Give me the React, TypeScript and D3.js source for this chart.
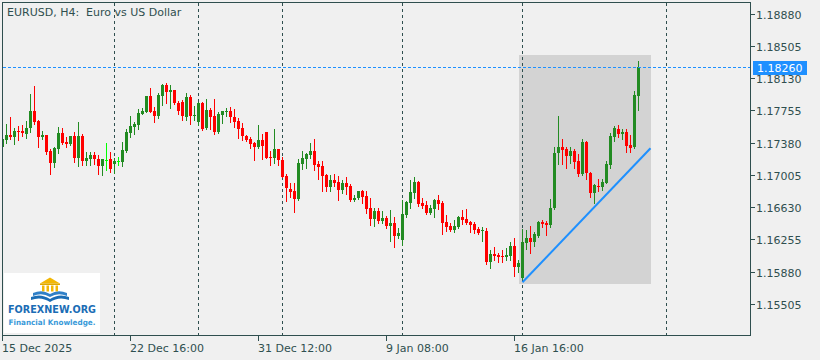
import React from "react";
import * as d3 from "d3";

const TITLE = "EURUSD, H4:  Euro vs US Dollar";

const openP = [1.17332,1.17410,1.17468,1.17445,1.17514,1.17514,1.17480,1.17546,1.17747,1.17631,1.17441,1.17468,1.17282,1.17147,1.17309,1.17488,1.17383,1.17364,1.17456,1.17205,1.17456,1.17170,1.17193,1.17236,1.17193,1.17112,1.17182,1.17186,1.17132,1.17166,1.17155,1.17282,1.17495,1.17565,1.17584,1.17716,1.17739,1.17921,1.17747,1.17693,1.17925,1.18049,1.17971,1.17991,1.17844,1.17855,1.17681,1.17910,1.17693,1.17620,1.17844,1.17546,1.17759,1.17689,1.17506,1.17701,1.17739,1.17747,1.17681,1.17631,1.17553,1.17456,1.17418,1.17375,1.17332,1.17410,1.17499,1.17217,1.17205,1.17305,1.17178,1.16996,1.16841,1.16818,1.16725,1.17128,1.17190,1.17236,1.17282,1.17132,1.17108,1.17004,1.16868,1.16946,1.16919,1.16829,1.16914,1.16876,1.16713,1.16740,1.16818,1.16760,1.16617,1.16493,1.16586,1.16469,1.16500,1.16411,1.16450,1.16295,1.16248,1.16539,1.16682,1.16798,1.16926,1.16682,1.16655,1.16558,1.16609,1.16713,1.16682,1.16454,1.16411,1.16365,1.16396,1.16512,1.16493,1.16454,1.16431,1.16377,1.16353,1.16353,1.15996,1.16086,1.16074,1.16066,1.16047,1.16063,1.16179,1.15938,1.15803,1.16217,1.16268,1.16229,1.16295,1.16462,1.16450,1.16423,1.16617,1.17256,1.17325,1.17305,1.17224,1.17282,1.17170,1.17016,1.17390,1.17031,1.16798,1.16880,1.16868,1.16914,1.17120,1.17448,1.17538,1.17480,1.17506,1.17352,1.17325,1.17921];
const highP = [1.17433,1.17597,1.17678,1.17546,1.17576,1.17584,1.17631,1.17945,1.18037,1.17637,1.17514,1.17474,1.17305,1.17332,1.17565,1.17546,1.17448,1.17462,1.17499,1.17620,1.17483,1.17267,1.17274,1.17274,1.17236,1.17195,1.17372,1.17267,1.17197,1.17217,1.17383,1.17538,1.17693,1.17623,1.17767,1.17779,1.17927,1.18018,1.17797,1.17953,1.18057,1.18072,1.18049,1.17997,1.17863,1.17875,1.17953,1.17933,1.17805,1.17855,1.17855,1.17887,1.17786,1.17887,1.17739,1.17753,1.17786,1.17797,1.17770,1.17670,1.17604,1.17468,1.17441,1.17390,1.17584,1.17476,1.17505,1.17282,1.17538,1.17311,1.17217,1.17012,1.16907,1.16907,1.17190,1.17282,1.17254,1.17372,1.17422,1.17166,1.17166,1.17016,1.17004,1.17016,1.16996,1.16946,1.16977,1.16899,1.16771,1.16823,1.16829,1.16818,1.16733,1.16617,1.16617,1.16586,1.16528,1.16597,1.16512,1.16384,1.16713,1.16701,1.16946,1.16985,1.16932,1.16733,1.16705,1.16655,1.16721,1.16771,1.16701,1.16539,1.16450,1.16481,1.16528,1.16597,1.16609,1.16469,1.16454,1.16404,1.16396,1.16392,1.16132,1.16171,1.16101,1.16132,1.16152,1.16229,1.16268,1.16016,1.16373,1.16365,1.16411,1.16345,1.16469,1.16481,1.16469,1.16725,1.17325,1.17689,1.17422,1.17325,1.17325,1.17305,1.17248,1.17422,1.17398,1.17037,1.16899,1.16962,1.16962,1.17170,1.17495,1.17573,1.17584,1.17538,1.17534,1.17468,1.17979,1.18331];
const lowP = [1.17317,1.17379,1.17422,1.17367,1.17413,1.17460,1.17430,1.17506,1.17600,1.17332,1.17418,1.17244,1.17019,1.17100,1.17259,1.17360,1.17332,1.17352,1.17158,1.17112,1.17120,1.17120,1.17120,1.17135,1.17019,1.17004,1.17062,1.17042,1.17031,1.17120,1.17112,1.17274,1.17445,1.17476,1.17538,1.17712,1.17732,1.17732,1.17623,1.17670,1.17817,1.17844,1.17786,1.17825,1.17712,1.17643,1.17643,1.17597,1.17643,1.17584,1.17523,1.17541,1.17534,1.17480,1.17495,1.17608,1.17693,1.17623,1.17565,1.17437,1.17410,1.17398,1.17313,1.17178,1.17321,1.17190,1.17197,1.17120,1.17143,1.17120,1.16981,1.16701,1.16748,1.16577,1.16713,1.17074,1.17089,1.17205,1.17062,1.16957,1.16818,1.16818,1.16818,1.16880,1.16713,1.16791,1.16783,1.16707,1.16701,1.16721,1.16675,1.16562,1.16423,1.16411,1.16450,1.16442,1.16384,1.16237,1.16171,1.16268,1.16190,1.16520,1.16624,1.16740,1.16644,1.16617,1.16547,1.16551,1.16512,1.16609,1.16318,1.16357,1.16353,1.16345,1.16392,1.16431,1.16435,1.16345,1.16326,1.16318,1.16240,1.15970,1.15920,1.16016,1.15996,1.15996,1.16016,1.16016,1.15830,1.15880,1.15800,1.16140,1.16101,1.16179,1.16287,1.16404,1.16307,1.16396,1.16613,1.17132,1.17132,1.17089,1.17147,1.17089,1.16992,1.17004,1.16957,1.16748,1.16682,1.16821,1.16829,1.16911,1.17089,1.17398,1.17441,1.17418,1.17274,1.17274,1.17321,1.17759];
const closeP = [1.17418,1.17468,1.17441,1.17514,1.17499,1.17488,1.17546,1.17747,1.17623,1.17448,1.17468,1.17274,1.17147,1.17314,1.17488,1.17379,1.17364,1.17456,1.17205,1.17456,1.17170,1.17201,1.17236,1.17186,1.17112,1.17190,1.17182,1.17074,1.17166,1.17166,1.17294,1.17506,1.17573,1.17597,1.17728,1.17747,1.17921,1.17739,1.17693,1.17933,1.18049,1.17971,1.17994,1.17844,1.17747,1.17689,1.17910,1.17693,1.17701,1.17844,1.17534,1.17759,1.17681,1.17499,1.17708,1.17747,1.17747,1.17681,1.17623,1.17538,1.17456,1.17410,1.17364,1.17332,1.17410,1.17340,1.17205,1.17205,1.17305,1.17178,1.16985,1.16849,1.16810,1.16725,1.17140,1.17205,1.17248,1.17282,1.17120,1.17100,1.16992,1.16868,1.16946,1.16907,1.16829,1.16907,1.16868,1.16713,1.16740,1.16818,1.16748,1.16609,1.16493,1.16586,1.16469,1.16500,1.16411,1.16442,1.16295,1.16326,1.16551,1.16694,1.16810,1.16926,1.16667,1.16644,1.16558,1.16624,1.16713,1.16667,1.16450,1.16396,1.16365,1.16411,1.16520,1.16481,1.16442,1.16423,1.16365,1.16334,1.16359,1.15989,1.16086,1.16063,1.16055,1.16047,1.16074,1.16179,1.15938,1.15985,1.16229,1.16268,1.16229,1.16315,1.16462,1.16435,1.16423,1.16617,1.17256,1.17325,1.17294,1.17224,1.17282,1.17158,1.17016,1.17390,1.17024,1.16798,1.16887,1.16868,1.16926,1.17132,1.17456,1.17546,1.17480,1.17506,1.17340,1.17313,1.17933,1.18260];

const yTicks = [1.18880, 1.18505, 1.18130, 1.17755, 1.17380, 1.17005, 1.16630, 1.16255, 1.15880, 1.15505];
const xTickIdx = [0, 32, 64, 96, 128];
const xTickLabels = ["15 Dec 2025", "22 Dec 16:00", "31 Dec 12:00", "9 Jan 08:00", "16 Jan 16:00"];
const gridIdx = [28, 49, 70, 100, 130, 166];
const currentPrice = 1.18260;
const boxFrom = [129, 1.18398];
const boxTo = [162, 1.15741];
const trendFrom = [130, 1.15757];
const trendTo = [162, 1.17314];

const FONT = "'DejaVu Sans', Verdana, sans-serif";
const AXIS = "#2F4F4F";
const BULL = "#228B22";
const BEAR = "#FF0000";
const DOJI = "#00FF00";
const BLUE = "#1E90FF";

export default function App() {
  const W = 820, H = 360;
  const x = d3.scaleLinear().domain([0, 159]).range([2.5, 638.5]);
  const y = d3.scaleLinear().domain([1.15505, 1.18880]).range([304, 13.5]);
  const py = (v: number) => Math.round(y(v)) + 0.5;

  const candles = openP.map((o, i) => {
    const c = closeP[i];
    const cx = x(i);
    const color = c > o ? BULL : c < o ? BEAR : DOJI;
    const yo = Math.round(y(o));
    const yc = Math.round(y(c));
    const top = Math.min(yo, yc);
    const h = Math.max(1, Math.abs(yo - yc));
    return (
      <g key={i}>
        <line x1={cx} x2={cx} y1={Math.round(y(highP[i]))} y2={Math.round(y(lowP[i])) + 1} stroke={color} strokeWidth={1} />
        <rect x={cx - 1.5} y={top} width={3} height={h} fill={color} />
      </g>
    );
  });

  const cp = py(currentPrice);

  return (
    <svg width={W} height={H} style={{ position: "absolute", left: 0, top: 0, display: "block" }} shapeRendering="crispEdges">
      <rect x={0} y={0} width={W} height={H} fill="#F0F0F0" />
      <defs>
        <clipPath id="plot">
          <rect x={3} y={3} width={747} height={332} />
        </clipPath>
      </defs>
      <g clipPath="url(#plot)">
        <rect x={x(boxFrom[0])} y={y(boxFrom[1])} width={x(boxTo[0]) - x(boxFrom[0])} height={y(boxTo[1]) - y(boxFrom[1])} fill="#D3D3D3" />
        {gridIdx.map((g) => (
          <line key={g} x1={x(g)} x2={x(g)} y1={3} y2={335} stroke={AXIS} strokeWidth={1} strokeDasharray="3,3" />
        ))}
        {candles}
        <line x1={3} x2={750} y1={cp} y2={cp} stroke={BLUE} strokeWidth={1} strokeDasharray="3,2" />
        <line x1={x(trendFrom[0])} y1={y(trendFrom[1])} x2={x(trendTo[0])} y2={y(trendTo[1])} stroke={BLUE} strokeWidth={2} shapeRendering="auto" />
      </g>
      <rect x={2.5} y={2.5} width={748} height={333} fill="none" stroke={AXIS} strokeWidth={1} />
      <text x={7} y={16} fontFamily={FONT} fontSize={11} fill={AXIS} style={{ whiteSpace: "pre" }} xmlSpace="preserve">{TITLE}</text>
      {yTicks.map((t) => (
        <g key={t}>
          <line x1={750} x2={755} y1={py(t)} y2={py(t)} stroke={AXIS} />
          <text x={756} y={py(t) + 4} fontFamily={FONT} fontSize={11} fill={AXIS}>{t.toFixed(5)}</text>
        </g>
      ))}
      <rect x={753} y={cp - 7} width={54} height={14} fill={BLUE} />
      <text x={757} y={cp + 4} fontFamily={FONT} fontSize={11} fill="#FFFFFF">{currentPrice.toFixed(5)}</text>
      {xTickIdx.map((t, i) => (
        <g key={t}>
          <line x1={x(t)} x2={x(t)} y1={336} y2={341} stroke={AXIS} />
          <text x={x(t) - 0.5} y={352} fontFamily={FONT} fontSize={11} fill={AXIS}>{xTickLabels[i]}</text>
        </g>
      ))}
      <g shapeRendering="auto">
        <rect x={4} y={273} width={96} height={60} fill="#FFFFFF" />
        <polygon points="40,283.5 50,277.5 60,283.5" fill="#F2B705" />
        <rect x={40} y={283.5} width={20} height={1.5} fill="#E0A800" />
        {[42, 46.5, 51, 55.5].map((cx) => (
          <rect key={cx} x={cx} y={285.5} width={2.5} height={6} fill="#F2B705" />
        ))}
        <path d="M33,293 Q42,289 50,294 Q58,289 67,293 L67,296 Q58,292 50,297 Q42,292 33,296 Z" fill="#2F80C8" />
        <path d="M31,297 Q41,293 50,299 Q59,293 69,297 L69,300 Q59,296 50,302 Q41,296 31,300 Z" fill="#1B6DB5" />
        <text x={52} y={313} textAnchor="middle" fontFamily={FONT} fontWeight="bold" fontSize={10.5} fill="#1B6DB5" textLength={88} lengthAdjust="spacingAndGlyphs">FOREXNEW.ORG</text>
        <text x={52} y={325} textAnchor="middle" fontFamily={FONT} fontWeight="bold" fontSize={7.5} fill="#3A9AD9" textLength={87} lengthAdjust="spacingAndGlyphs">Financial Knowledge.</text>
      </g>
    </svg>
  );
}
